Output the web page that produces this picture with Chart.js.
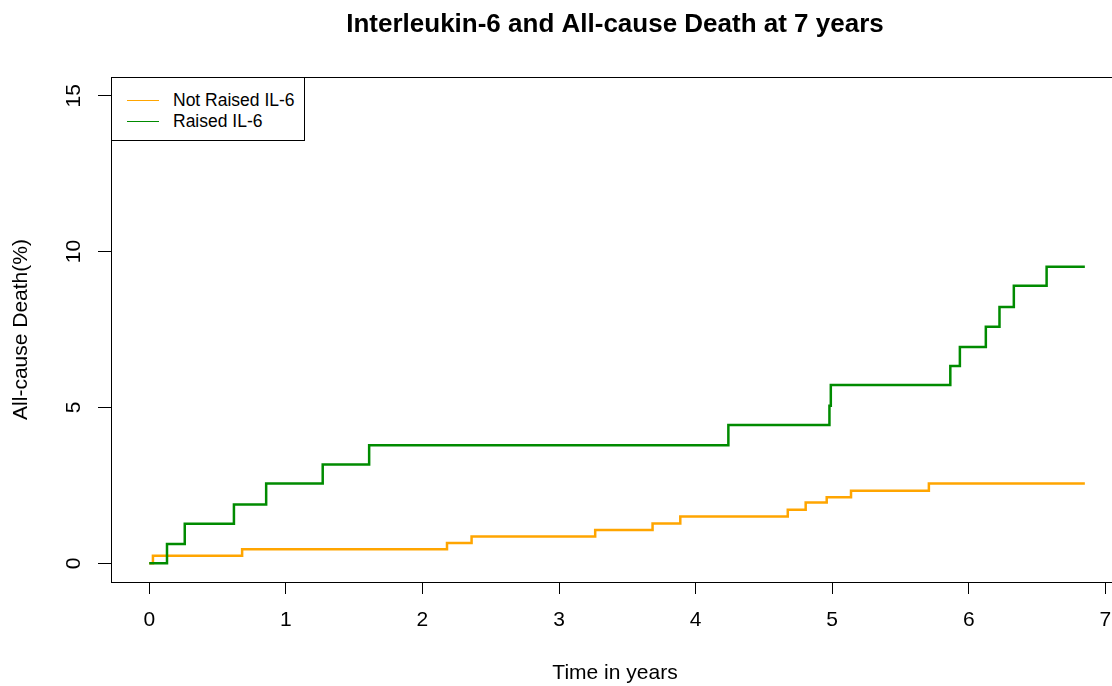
<!DOCTYPE html>
<html>
<head>
<meta charset="utf-8">
<script src="https://cdn.jsdelivr.net/npm/chart.js@4.4.1/dist/chart.umd.min.js"></script>
<style>
  html, body { margin: 0; background: #fff; overflow: hidden; }
  /* the plot box runs a little past the right edge of the picture */
  #wrap { position: relative; width: 1112px; height: 686px; overflow: hidden; }
  #km { position: absolute; left: 0; top: 0; }
  #legend {
    position: absolute; left: 111px; top: 77px; width: 194px; height: 64px;
    box-sizing: border-box; border: 1px solid #000; background: #fff;
    font-family: "Liberation Sans", Arial, sans-serif; font-size: 17.5px; color: #000;
  }
  .row { position: absolute; left: 0; height: 20px; line-height: 20px; white-space: nowrap; }
  .row i { position: absolute; left: 15px; top: 10px; width: 32px; height: 1px; }
  .row span { position: absolute; left: 61px; top: 0; }
</style>
</head>
<body>
<div id="wrap">
  <canvas id="km" width="1119" height="686"></canvas>
  <div id="legend"></div>
</div>
<script>
const chartTitle = "Interleukin-6 and All-cause Death at 7 years";
const xTitle = "Time in years";
const yTitle = "All-cause Death(%)";
const seriesNames = ["Not Raised IL-6", "Raised IL-6"];
const seriesColors = ["#FFA500", "#008B00"];

// step times (years) and cumulative death (%)
const notRaisedT = [0, 0.027, 0.68, 2.18, 2.36, 3.265, 3.685, 3.888, 4.675, 4.806, 4.96, 5.138, 5.708, 6.85];
const notRaisedY = [0, 0.24, 0.45, 0.65, 0.86, 1.07, 1.28, 1.50, 1.72, 1.95, 2.12, 2.33, 2.56, 2.56];
const raisedT = [0, 0.13, 0.26, 0.62, 0.856, 1.27, 1.61, 4.24, 4.98, 4.99, 5.865, 5.935, 6.125, 6.225, 6.33, 6.57, 6.85];
const raisedY = [0, 0.62, 1.27, 1.89, 2.56, 3.17, 3.79, 4.44, 5.05, 5.72, 6.33, 6.94, 7.59, 8.22, 8.90, 9.51, 9.51];

const xMin = -0.28, xMax = 7.1;
const yMin = -0.6, yMax = 15.6;

function pts(ts, ys) {
  return ts.map((t, i) => ({ x: t, y: ys[i] }));
}

const font = "'Liberation Sans', Arial, sans-serif";

// box around the plot region, like R's box()
const frame = {
  id: "frame",
  afterDraw(chart) {
    const ca = chart.chartArea;
    const c = chart.ctx;
    c.save();
    c.strokeStyle = "#000";
    c.lineWidth = 1;
    c.strokeRect(Math.round(ca.left) + 0.5, Math.round(ca.top) + 0.5,
      Math.round(ca.width), Math.round(ca.height));
    c.restore();
  }
};

const ctx = document.getElementById("km").getContext("2d");

const kmChart = new Chart(ctx, {
  type: "line",
  data: {
    datasets: [
      {
        label: seriesNames[0],
        data: pts(notRaisedT, notRaisedY),
        borderColor: seriesColors[0],
        borderWidth: 2.5,
        stepped: true,
        pointRadius: 0,
        fill: false,
        order: 1
      },
      {
        label: seriesNames[1],
        data: pts(raisedT, raisedY),
        borderColor: seriesColors[1],
        borderWidth: 2.5,
        stepped: true,
        pointRadius: 0,
        fill: false,
        order: 0
      }
    ]
  },
  options: {
    responsive: false,
    animation: false,
    layout: { padding: 0 },
    plugins: {
      legend: { display: false },
      tooltip: { enabled: false },
      title: {
        display: true,
        text: chartTitle,
        fullSize: false,
        color: "#000",
        font: { family: font, size: 26, weight: "bold" },
        padding: { top: 9, bottom: 36.8 }
      }
    },
    scales: {
      x: {
        type: "linear",
        min: xMin,
        max: xMax,
        afterFit: (s) => {
          s.height = 104;
          s.paddingLeft = 0;
          s.paddingRight = 0;
        },
        grid: { drawOnChartArea: false, drawTicks: true, tickLength: 12, tickColor: "#000", tickWidth: 1 },
        border: { display: true, color: "#000", width: 1 },
        ticks: {
          stepSize: 1,
          includeBounds: false,
          color: "#000",
          padding: 14,
          maxRotation: 0,
          font: { family: font, size: 21 }
        },
        title: {
          display: true,
          text: xTitle,
          color: "#000",
          font: { family: font, size: 21 },
          padding: { top: 0, bottom: 0 }
        }
      },
      y: {
        type: "linear",
        min: yMin,
        max: yMax,
        afterFit: (s) => { s.width = 111; },
        grid: { drawOnChartArea: false, drawTicks: true, tickLength: 13, tickColor: "#000", tickWidth: 1 },
        border: { display: true, color: "#000", width: 1 },
        ticks: {
          stepSize: 5,
          includeBounds: false,
          color: "#000",
          padding: 12,
          minRotation: 90,
          maxRotation: 90,
          crossAlign: "center",
          font: { family: font, size: 21 }
        },
        title: {
          display: true,
          text: yTitle,
          color: "#000",
          font: { family: font, size: 21 },
          padding: { top: 9, bottom: 0 }
        }
      }
    }
  },
  plugins: [frame]
});

// legend box in the top-left corner of the plot
const legendBox = document.getElementById("legend");
seriesNames.forEach((name, i) => {
  const row = document.createElement("div");
  row.className = "row";
  row.style.top = (12 + i * 21) + "px";
  row.innerHTML = `<i style="background:${seriesColors[i]}"></i><span>${name}</span>`;
  legendBox.appendChild(row);
});
</script>
</body>
</html>
